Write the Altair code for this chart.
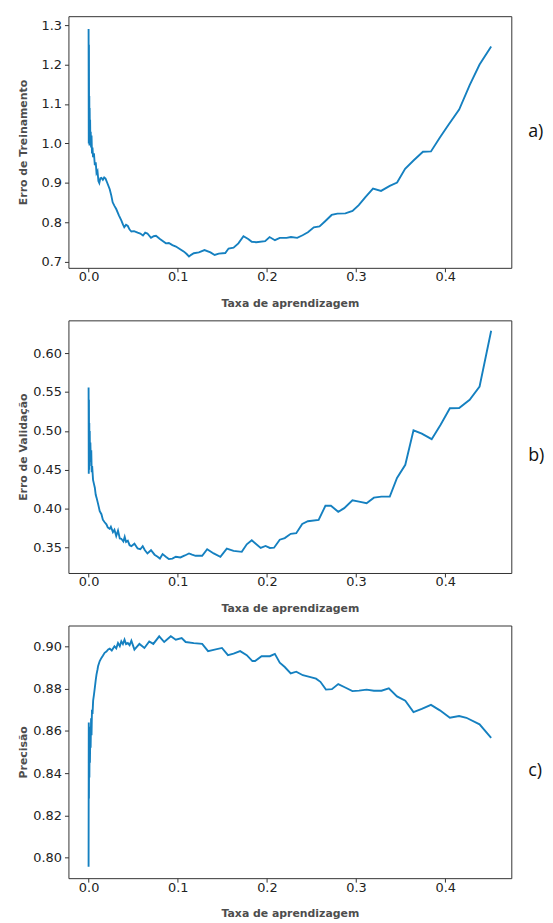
import altair as alt
import pandas as pd

# ---- data ----
# a) training error
xa = [0.0000, 0.0002, 0.0004, 0.0006, 0.0008, 0.0010, 0.0012, 0.0014, 0.0017, 0.0020,
      0.0024, 0.0028, 0.0033, 0.0038, 0.0044, 0.0050, 0.0060, 0.0070, 0.0080, 0.0089,
      0.0100, 0.0110, 0.0120, 0.0132, 0.0144, 0.0160, 0.0175, 0.0190, 0.0210, 0.0237,
      0.0255, 0.0270, 0.0290, 0.0310, 0.0340, 0.0367, 0.0385, 0.0400, 0.0420, 0.0440,
      0.0460, 0.0480, 0.0510, 0.0550, 0.0580, 0.0610, 0.0635, 0.0660, 0.0700, 0.0730,
      0.0756, 0.0800, 0.0867, 0.0900, 0.0940, 0.0980, 0.1014, 0.1070, 0.1100, 0.1126,
      0.1150, 0.1180, 0.1237, 0.1300, 0.1367, 0.1414, 0.1460, 0.1533, 0.1570, 0.1626,
      0.1680, 0.1737, 0.1790, 0.1830, 0.1880, 0.1980, 0.2030, 0.2090, 0.2144, 0.2220,
      0.2270, 0.2340, 0.2400, 0.2460, 0.2526, 0.2590, 0.2650, 0.2726, 0.2790, 0.2880,
      0.2960, 0.3030, 0.3107, 0.3190, 0.3280, 0.3378, 0.3460, 0.3550, 0.3644, 0.3750,
      0.3840, 0.3940, 0.4033, 0.4156, 0.4274, 0.4385, 0.4515]
ya = [1.290, 1.000, 1.250, 1.000, 1.120, 0.995, 1.090, 1.040, 1.060, 1.000,
      1.030, 0.990, 1.020, 0.975, 0.990, 0.965, 0.975, 0.945, 0.952, 0.925,
      0.930, 0.905, 0.900, 0.912, 0.913, 0.908, 0.914, 0.911, 0.900, 0.884,
      0.868, 0.851, 0.842, 0.834, 0.818, 0.805, 0.795, 0.788, 0.794, 0.791,
      0.782, 0.777, 0.778, 0.774, 0.772, 0.767, 0.774, 0.772, 0.761, 0.765,
      0.766, 0.758, 0.747, 0.748, 0.7425, 0.739, 0.734, 0.726, 0.720, 0.714,
      0.718, 0.722, 0.724, 0.730, 0.724, 0.7175, 0.721, 0.7225, 0.734, 0.736,
      0.747, 0.765, 0.758, 0.751, 0.750, 0.7525, 0.763, 0.755, 0.761, 0.761,
      0.763, 0.761, 0.7675, 0.775, 0.7875, 0.790, 0.8025, 0.819, 0.8225, 0.823,
      0.829, 0.844, 0.865, 0.886, 0.880, 0.8925, 0.901, 0.936, 0.957, 0.979,
      0.980, 1.015, 1.046, 1.086, 1.148, 1.200, 1.246]

# b) validation error
xb = [0.0000, 0.0002, 0.0004, 0.0006, 0.0008, 0.0010, 0.0013, 0.0016, 0.0020, 0.0025,
      0.0030, 0.0035, 0.0040, 0.0050, 0.0060, 0.0070, 0.0080, 0.0090, 0.0107, 0.0125,
      0.0144, 0.0160, 0.0180, 0.0200, 0.0215, 0.0237, 0.0250, 0.0273, 0.0290, 0.0310,
      0.0330, 0.0350, 0.0367, 0.0390, 0.0405, 0.0420, 0.0440, 0.0460, 0.0480, 0.0514,
      0.0550, 0.0580, 0.0607, 0.0630, 0.0660, 0.0700, 0.0740, 0.0774, 0.0800, 0.0830,
      0.0870, 0.0900, 0.0940, 0.0978, 0.1030, 0.1080, 0.1126, 0.1160, 0.1200, 0.1274,
      0.1330, 0.1403, 0.1478, 0.1550, 0.1626, 0.1718, 0.1774, 0.1830, 0.1930, 0.1985,
      0.2033, 0.2080, 0.2144, 0.2200, 0.2267, 0.2329, 0.2396, 0.2459, 0.2580, 0.2656,
      0.2718, 0.2800, 0.2867, 0.2959, 0.3033, 0.3118, 0.3200, 0.3285, 0.3378, 0.3459,
      0.3552, 0.3644, 0.3737, 0.3848, 0.3948, 0.4052, 0.4156, 0.4274, 0.4385, 0.4515]
yb = [0.5557, 0.445, 0.540, 0.450, 0.510, 0.455, 0.500, 0.462, 0.485, 0.460,
      0.475, 0.447, 0.455, 0.437, 0.432, 0.427, 0.418, 0.414, 0.406, 0.397,
      0.393, 0.386, 0.3827, 0.380, 0.376, 0.3742, 0.377, 0.370, 0.373, 0.365,
      0.372, 0.362, 0.3615, 0.358, 0.364, 0.3573, 0.359, 0.3532, 0.352, 0.3552,
      0.349, 0.348, 0.352, 0.347, 0.3426, 0.3468, 0.341, 0.3384, 0.336, 0.3418,
      0.338, 0.3354, 0.336, 0.3384, 0.3375, 0.340, 0.3426, 0.341, 0.3396, 0.3396,
      0.348, 0.3426, 0.3384, 0.3489, 0.346, 0.3447, 0.3544, 0.3595, 0.3497, 0.3523,
      0.3497, 0.350, 0.3603, 0.3624, 0.3678, 0.3687, 0.3805, 0.384, 0.3856, 0.4038,
      0.4038, 0.3962, 0.4008, 0.4109, 0.4092, 0.4071, 0.4143, 0.4156, 0.4156, 0.4396,
      0.4565, 0.5008, 0.4966, 0.4894, 0.508, 0.5291, 0.5295, 0.540, 0.557, 0.6286]

# c) precision
xc = [0.0000, 0.0002, 0.0004, 0.0006, 0.0009, 0.0012, 0.0015, 0.0019, 0.0023, 0.0028,
      0.0033, 0.0038, 0.0044, 0.0051, 0.0060, 0.0070, 0.0080, 0.0089, 0.0100, 0.0107,
      0.0125, 0.0144, 0.0160, 0.0180, 0.0200, 0.0220, 0.0237, 0.0260, 0.0290, 0.0310,
      0.0330, 0.0350, 0.0367, 0.0385, 0.0403, 0.0420, 0.0440, 0.0460, 0.0480, 0.0514,
      0.0570, 0.0626, 0.0680, 0.0726, 0.0792, 0.0848, 0.0922, 0.0978, 0.1044, 0.1089,
      0.1180, 0.1274, 0.1340, 0.1414, 0.1496, 0.1563, 0.1626, 0.1700, 0.1774, 0.1837,
      0.1867, 0.1940, 0.2033, 0.2089, 0.2144, 0.2200, 0.2267, 0.2329, 0.2403, 0.2478,
      0.2551, 0.2600, 0.2662, 0.2729, 0.2800, 0.2878, 0.2959, 0.3033, 0.3118, 0.3200,
      0.3285, 0.3367, 0.3459, 0.3552, 0.3644, 0.3737, 0.3840, 0.3940, 0.4052, 0.4156,
      0.4237, 0.4385, 0.4515]
yc = [0.7958, 0.864, 0.828, 0.862, 0.838, 0.860, 0.845, 0.858, 0.852, 0.866,
      0.858, 0.870, 0.868, 0.8743, 0.877, 0.8805, 0.884, 0.8867, 0.889, 0.8907,
      0.893, 0.8945, 0.8955, 0.8969, 0.8975, 0.8985, 0.8989, 0.898, 0.900, 0.899,
      0.9015, 0.900, 0.9023, 0.901, 0.9031, 0.901, 0.9015, 0.9005, 0.9026, 0.8984,
      0.9011, 0.8992, 0.9023, 0.9011, 0.9047, 0.902, 0.9047, 0.9031, 0.9039, 0.902,
      0.9015, 0.9011, 0.8977, 0.8984, 0.8992, 0.8958, 0.8965, 0.8977, 0.8958, 0.893,
      0.893, 0.8953, 0.8953, 0.8964, 0.8922, 0.8902, 0.8872, 0.888, 0.8863, 0.8855,
      0.8847, 0.8832, 0.8795, 0.8797, 0.8821, 0.8805, 0.8788, 0.879, 0.8795, 0.879,
      0.879, 0.8801, 0.8763, 0.8743, 0.8689, 0.8704, 0.8723, 0.8697, 0.8662, 0.867,
      0.8662, 0.8631, 0.8567]

x_ticks = [0.0, 0.1, 0.2, 0.3, 0.4]
ticks_a = [0.7, 0.8, 0.9, 1.0, 1.1, 1.2, 1.3]
ticks_b = [0.35, 0.40, 0.45, 0.50, 0.55, 0.60]
ticks_c = [0.80, 0.82, 0.84, 0.86, 0.88, 0.90]

x_title = "Taxa de aprendizagem"
y_titles = ["Erro de Treinamento", "Erro de Validação", "Precisão"]
panel_labels = ["a)", "b)", "c)"]

LINE = "#1580c0"
W = 447


def panel(xs, ys, ytitle, yticks, yfmt, ydom, label, label_y, h):
    df = pd.DataFrame({"x": xs, "y": ys, "i": range(len(xs))})
    line = alt.Chart(df).mark_line(color=LINE, strokeWidth=1.9, clip=True).encode(
        x=alt.X("x:Q", scale=alt.Scale(domain=[-0.0226, 0.4741], nice=False, zero=False),
                axis=alt.Axis(title=x_title, values=x_ticks, format=".1f",
                              labelPadding=-1, titleY=36, titleBaseline="middle")),
        y=alt.Y("y:Q", scale=alt.Scale(domain=ydom, nice=False, zero=False),
                axis=alt.Axis(title=ytitle, values=yticks, format=yfmt,
                              labelPadding=3, titleX=-45, titleBaseline="middle")),
        order="i:Q",
    )
    lab = alt.Chart(pd.DataFrame({"t": [label]})).mark_text(
        font="Open Sans", fontSize=18, color="#111", align="left", baseline="middle"
    ).encode(x=alt.value(464), y=alt.value(label_y), text="t:N")
    return alt.layer(line, lab).properties(width=W, height=h)


pa = panel(xa, ya, y_titles[0], ticks_a, ".1f", [0.685, 1.3225], panel_labels[0], 117, 254)
pb = panel(xb, yb, y_titles[1], ticks_b, ".2f", [0.3175, 0.642], panel_labels[1], 137, 255)
pc = panel(xc, yc, y_titles[2], ticks_c, ".2f", [0.7904, 0.9098], panel_labels[2], 147, 255)

chart = alt.vconcat(pa, pb, pc, spacing=10).properties(
    padding={"left": 9, "top": 3, "right": 0, "bottom": 0}
).configure_view(
    stroke="#333", strokeWidth=1
).configure_axis(
    domain=False, grid=False, tickColor="#333", tickSize=4, tickWidth=1,
    labelFont="DejaVu Sans", labelFontSize=13, labelColor="#222",
    titleFont="DejaVu Sans", titleFontSize=11, titleFontWeight="bold", titleColor="#4d4d4d"
)

chart.save("out.html", embed_options={"renderer": "svg", "actions": False})
